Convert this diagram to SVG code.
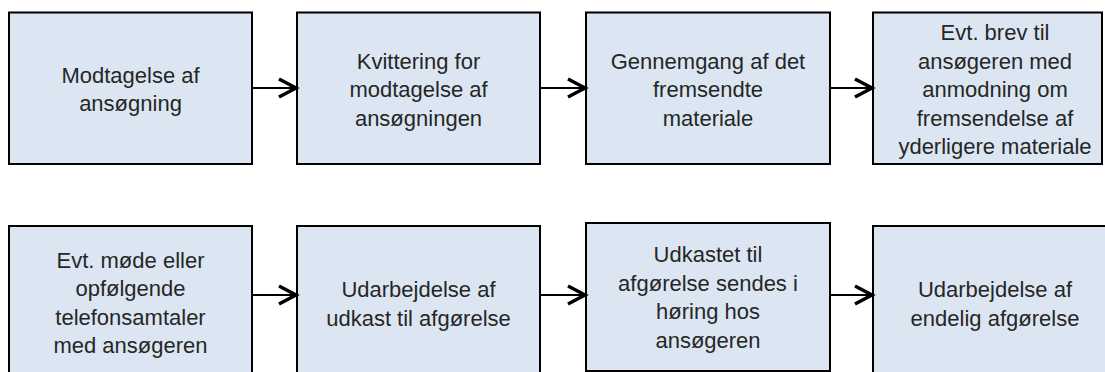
<svg xmlns="http://www.w3.org/2000/svg" width="1105" height="372" viewBox="0 0 1105 372">
<style>
.box{fill:#dce6f2;stroke:#000;stroke-width:2}
.t{font-family:"Liberation Sans",Arial,sans-serif;font-size:22px;fill:#262626;text-anchor:middle}
.c{stroke:#000;stroke-width:2;fill:none}
.h{stroke:#000;stroke-width:3.5;fill:none;stroke-linecap:butt;stroke-linejoin:miter}
</style>
<rect width="1105" height="372" fill="#fff"/>
<g id="n1"><rect class="box" x="9" y="12.5" width="243" height="151.5"/>
<text class="t"><tspan x="130.5" y="83">Modtagelse af</tspan><tspan x="130.5" y="111">ansøgning</tspan></text></g>
<g id="n2"><rect class="box" x="297" y="12.5" width="243" height="151.5"/>
<text class="t"><tspan x="418.5" y="68.5">Kvittering for</tspan><tspan x="418.5" y="97">modtagelse af</tspan><tspan x="418.5" y="125.5">ansøgningen</tspan></text></g>
<g id="n3"><rect class="box" x="586" y="12.5" width="244" height="151.5"/>
<text class="t"><tspan x="708" y="68.5">Gennemgang af det</tspan><tspan x="708" y="97">fremsendte</tspan><tspan x="708" y="125.5">materiale</tspan></text></g>
<g id="n4"><rect class="box" x="873" y="12.5" width="229" height="151.5"/>
<text class="t"><tspan x="995" y="40">Evt. brev til</tspan><tspan x="995" y="68.5">ansøgeren med</tspan><tspan x="995" y="97">anmodning om</tspan><tspan x="995" y="125.5">fremsendelse af</tspan><tspan x="995" y="154">yderligere materiale</tspan></text></g>
<g id="n5"><rect class="box" x="9" y="226" width="243" height="160"/>
<text class="t"><tspan x="130.5" y="267.5">Evt. møde eller</tspan><tspan x="130.5" y="296">opfølgende</tspan><tspan x="130.5" y="324.5">telefonsamtaler</tspan><tspan x="130.5" y="353">med ansøgeren</tspan></text></g>
<g id="n6"><rect class="box" x="297" y="226" width="243" height="160"/>
<text class="t"><tspan x="418.5" y="297">Udarbejdelse af</tspan><tspan x="418.5" y="325.5">udkast til afgørelse</tspan></text></g>
<g id="n7"><rect class="box" x="586" y="223" width="244" height="148"/>
<text class="t"><tspan x="708" y="262">Udkastet til</tspan><tspan x="708" y="290.5">afgørelse sendes i</tspan><tspan x="708" y="319">høring hos</tspan><tspan x="708" y="347.5">ansøgeren</tspan></text></g>
<g id="n8"><rect class="box" x="873" y="226" width="250" height="160"/>
<text class="t"><tspan x="995" y="297">Udarbejdelse af</tspan><tspan x="995" y="325.5">endelig afgørelse</tspan></text></g>
<g id="connectors">
<path class="c" d="M252 88H296M540 88H585M830 88H872M252 295H296M540 295H585M830 295H872"/>
<path class="h" d="M279 79L296 88L279 97M568 79L585 88L568 97M855 79L872 88L855 97M279 286L296 295L279 304M568 286L585 295L568 304M855 286L872 295L855 304"/>
</g>
</svg>
